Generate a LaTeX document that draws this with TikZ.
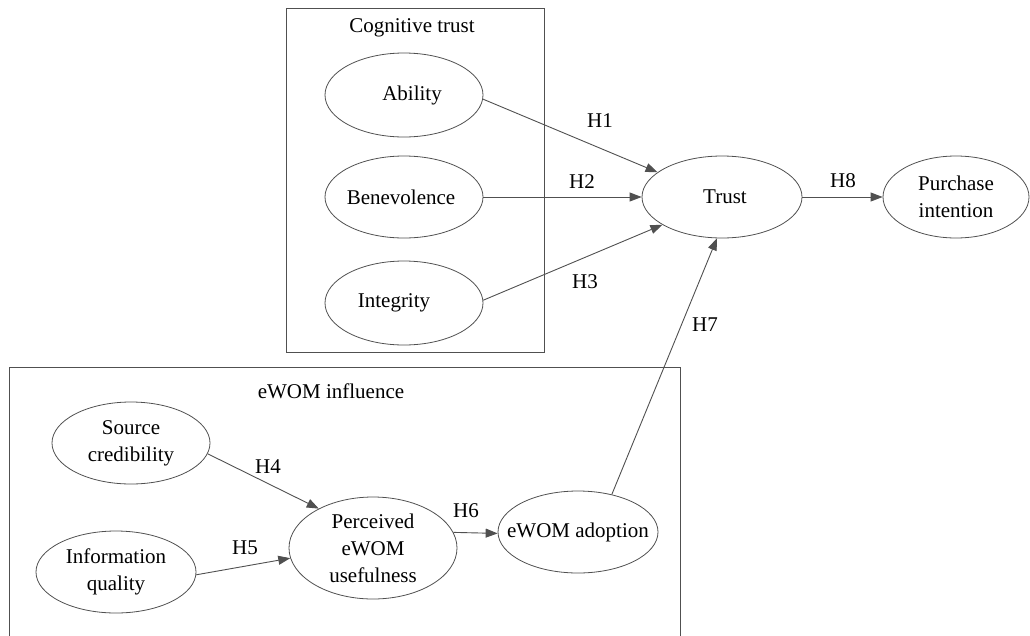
\documentclass[tikz,border=0pt]{standalone}
\usepackage{fontspec}
\setmainfont{Liberation Serif}
\usetikzlibrary{shapes.geometric, arrows.meta}

\definecolor{linegray}{RGB}{80,80,80}

\begin{document}
\begin{tikzpicture}[x = 1pt, y = -1pt,
        font = \fontsize{21}{27}\selectfont,
        ell/.style 2 args = {draw = linegray, line width = 0.8pt, ellipse, inner sep = 0pt,
            minimum width = #1pt, minimum height = #2pt},
        txt/.style = {align = center, inner sep = 0pt},
        arr/.style = {draw = linegray, line width = 0.9pt, -{Triangle[length = 12pt, width = 9pt]}},
        hyp/.style = {inner sep = 0pt}]
            \useasboundingbox (0,0) rectangle (1030,635);

            % groups
            \draw[linegray, line width = 0.8pt] (286,8) rectangle (544,352);
            \node[txt] (cogtitle) at (412,28) {Cognitive trust};
            \draw[linegray, line width = 0.8pt] (9,645) -- (9,367) -- (680,367) -- (680,645);
            \node[txt] (ewomtitle) at (331,391) {eWOM influence};

            % constructs
            \node[ell = {158}{84}, label = {[txt, xshift = 8pt]center:Ability}] (ability) at (404,95) {};
            \node[ell = {158}{82}, label = {[txt, xshift = -3pt]center:Benevolence}] (benev) at (404,197) {};
            \node[ell = {158}{84}, label = {[txt, xshift = -10pt]center:Integrity}] (integ) at (404,303) {};
            \node[ell = {160}{82}, label = {[txt, xshift = 3pt]center:Trust}] (trust) at (722,197) {};
            \node[ell = {146}{82}, label = {[txt]center:Purchase\\intention}] (purch) at (956,197) {};
            \node[ell = {158}{82}, label = {[txt]center:Source\\credibility}] (source) at (131,443) {};
            \node[ell = {160}{82}, label = {[txt]center:Information\\quality}] (info) at (116,572) {};
            \node[ell = {168}{102}, label = {[txt]center:Perceived\\eWOM\\usefulness}] (useful) at (373,548) {};
            \node[ell = {160}{82}, label = {[txt]center:eWOM adoption}] (adopt) at (578,532) {};

            % hypotheses
            \draw[arr] (ability.-3) -- (trust.159);
            \draw[arr] (benev.east) -- (trust.west);
            \draw[arr] (integ.2) -- (trust.205);
            \draw[arr] (trust.east) -- (purch.west);
            \draw[arr] (adopt.48) -- (trust.263);
            \draw[arr] (source.-8) -- (useful.144);
            \draw[arr] (info.-2) -- (useful.187);
            \draw[arr] (useful.11) -- (adopt.181);

            \node[hyp] (h1) at (600,121) {H1};
            \node[hyp] (h2) at (582,182) {H2};
            \node[hyp] (h3) at (585,282) {H3};
            \node[hyp] (h4) at (268,467) {H4};
            \node[hyp] (h5) at (245,548) {H5};
            \node[hyp] (h6) at (466,511) {H6};
            \node[hyp] (h7) at (705,325) {H7};
            \node[hyp] (h8) at (843,181) {H8};
        \end{tikzpicture}
\end{document}
